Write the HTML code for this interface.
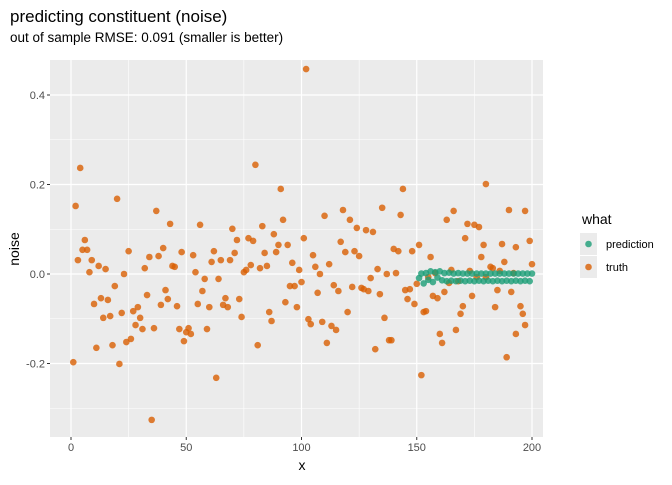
<!DOCTYPE html>
<html><head><meta charset="utf-8"><style>
body{margin:0;background:#fff;font-family:"Liberation Sans",sans-serif}
svg text{font-family:"Liberation Sans",sans-serif}
</style></head><body>
<svg id="c" width="672" height="480" xmlns="http://www.w3.org/2000/svg">
<text x="10" y="22" font-size="17" fill="#000">predicting constituent (noise)</text>
<text x="10" y="42" font-size="13.5" fill="#000">out of sample RMSE: 0.091 (smaller is better)</text>
<text x="302" y="470" font-size="14" text-anchor="middle">x</text>
<text transform="translate(19,249) rotate(-90)" font-size="14" text-anchor="middle">noise</text>
<g>
<text x="582" y="224" font-size="14">what</text>
<rect x="580" y="233" width="17" height="22" fill="#ebebeb"/>
<circle cx="588.5" cy="244" r="3.3" fill="#1B9E77" fill-opacity="0.8"/>
<text x="606" y="248" font-size="11">prediction</text>
<rect x="580" y="256" width="17" height="22" fill="#ebebeb"/>
<circle cx="588.5" cy="267" r="3.3" fill="#D95F02" fill-opacity="0.8"/>
<text x="606" y="271" font-size="11">truth</text>
</g>
</svg>
<script>
const truthX=[4,2,20,37,43,6,5,7,3,9,8,12,15,25,23,34,38,40,32,44,45,48,19,10,13,16,33,41,42,39,46,22,27,29,14,17,30,28,31,36,11,18,24,26,1,21,35,
56,70,72,80,91,83,92,77,79,88,90,94,101,53,62,61,65,69,71,84,89,96,54,58,64,75,76,78,82,85,99,100,95,97,57,55,60,67,66,68,73,74,86,87,93,98,47,51,50,52,49,59,81,63,102,
144,118,110,135,143,121,124,128,131,117,119,123,125,105,140,142,148,151,106,112,108,133,137,141,114,116,122,126,127,129,130,107,134,145,147,146,149,150,120,103,104,109,113,115,136,111,138,139,132,152,
180,166,190,197,163,172,175,177,171,187,199,179,193,156,178,188,200,182,183,165,173,186,192,158,155,164,176,168,180,185,191,162,157,159,174,170,184,195,153,154,169,196,197,167,160,193,161,189];
const truthY=[0.237,0.152,0.168,0.141,0.112,0.076,0.054,0.054,0.031,0.031,0.004,0.018,0.011,0.051,0,0.038,0.040,0.058,0.013,0.018,0.016,0.049,-0.027,-0.067,-0.054,-0.058,-0.047,-0.036,-0.056,-0.069,-0.072,-0.087,-0.083,-0.074,-0.098,-0.094,-0.098,-0.114,-0.123,-0.121,-0.165,-0.159,-0.152,-0.145,-0.197,-0.201,-0.326,
0.110,0.101,0.076,0.244,0.190,0.107,0.121,0.080,0.074,0.089,0.065,0.065,0.080,0.042,0.051,0.027,0.031,0.031,0.047,0.047,0.049,0.025,0.004,-0.011,-0.011,0.004,0.009,0.020,0.013,0.018,0.009,-0.018,-0.027,-0.027,-0.038,-0.067,-0.074,-0.054,-0.069,-0.074,-0.056,-0.096,-0.085,-0.105,-0.063,-0.074,-0.123,-0.121,-0.130,-0.134,-0.150,-0.123,-0.159,-0.232,0.458,
0.190,0.143,0.130,0.148,0.132,0.121,0.103,0.098,0.094,0.072,0.049,0.051,0.040,0.042,0.056,0.051,0.051,0.065,0.016,0.022,0,0.011,0,0.002,-0.025,-0.038,-0.029,-0.031,-0.034,-0.038,-0.009,-0.042,-0.045,-0.036,-0.034,-0.056,-0.067,-0.022,-0.085,-0.101,-0.112,-0.107,-0.116,-0.125,-0.098,-0.154,-0.148,-0.148,-0.168,-0.226,
0.201,0.141,0.143,0.141,0.121,0.112,0.110,0.105,0.080,0.067,0.074,0.065,0.060,0.038,0.038,0.027,0.022,0.016,0.013,0.009,0.007,0.007,0.002,0.002,-0.007,-0.020,-0.007,-0.016,-0.007,-0.036,-0.040,-0.040,-0.049,-0.054,-0.049,-0.072,-0.074,-0.072,-0.085,-0.083,-0.089,-0.089,-0.114,-0.125,-0.134,-0.134,-0.154,-0.186];
const predX=[151,152,153,154,155,156,157,158,159,160,161,162,163,164,165,166,167,168,169,170,171,172,173,174,175,176,177,178,179,180,181,182,183,184,185,186,187,188,189,190,191,192,193,194,195,196,197,198,199,200];
const predY=[-0.009,0.001,-0.021,0.002,-0.013,0.006,-0.018,0.004,-0.008,0.006,-0.014,0.002,-0.016,0.003,-0.015,0.001,-0.016,0.002,-0.015,0.001,-0.016,0.001,-0.015,0.001,-0.016,0.001,-0.015,0.001,-0.016,0.001,-0.015,0.001,-0.016,0.001,-0.015,0.001,-0.016,0.001,-0.015,0.001,-0.016,0.001,-0.015,0.001,-0.016,0.001,-0.015,0.001,-0.016,0.001];
const xTicks=[0,50,100,150,200];
const yTicks=[-0.2,0,0.2,0.4];
const yTickLabels=["-0.2","0.0","0.2","0.4"];
const L=50,R=543,T=60,B=437;
const sx=v=>71+(v-0)*(532-71)/200;
const sy=v=>274-v*447.5;
const NS='http://www.w3.org/2000/svg';
const svg=document.getElementById('c');
function mk(tag,attrs,parent){const e=document.createElementNS(NS,tag);for(const k in attrs)e.setAttribute(k,attrs[k]);(parent||svg).appendChild(e);return e;}
const panel=mk('g',{});


const bg=mk('rect',{x:L,y:T,width:R-L,height:B-T,fill:'#ebebeb'},panel);


for(let i=0;i<xTicks.length-1;i++){const m=(xTicks[i]+xTicks[i+1])/2;const g=mk('line',{x1:sx(m),x2:sx(m),y1:T,y2:B,stroke:'#fff','stroke-width':0.6},panel);}
[-0.3,-0.1,0.1,0.3].forEach(v=>{const g=mk('line',{x1:L,x2:R,y1:sy(v),y2:sy(v),stroke:'#fff','stroke-width':0.6},panel);});
xTicks.forEach(v=>{const g=mk('line',{x1:sx(v),x2:sx(v),y1:T,y2:B,stroke:'#fff','stroke-width':1.2},panel);
const t=mk('line',{x1:sx(v),x2:sx(v),y1:B,y2:B+3,stroke:'#333','stroke-width':1});
const l=mk('text',{x:sx(v),y:B+14,'font-size':11,'text-anchor':'middle',fill:'#4d4d4d'});l.textContent=v;});
yTicks.forEach((v,i)=>{const g=mk('line',{x1:L,x2:R,y1:sy(v),y2:sy(v),stroke:'#fff','stroke-width':1.2},panel);
const t=mk('line',{x1:L-3,x2:L,y1:sy(v),y2:sy(v),stroke:'#333','stroke-width':1});
const l=mk('text',{x:L-5,y:sy(v)+4,'font-size':11,'text-anchor':'end',fill:'#4d4d4d'});l.textContent=yTickLabels[i];});
truthX.forEach((x,i)=>{const c=mk('circle',{cx:sx(x),cy:sy(truthY[i]),r:3.3,fill:'#D95F02','fill-opacity':0.8},panel);});
predX.forEach((x,i)=>{const c=mk('circle',{cx:sx(x),cy:sy(predY[i]),r:3.3,fill:'#1B9E77','fill-opacity':0.8},panel);});
</script>
</body></html>
